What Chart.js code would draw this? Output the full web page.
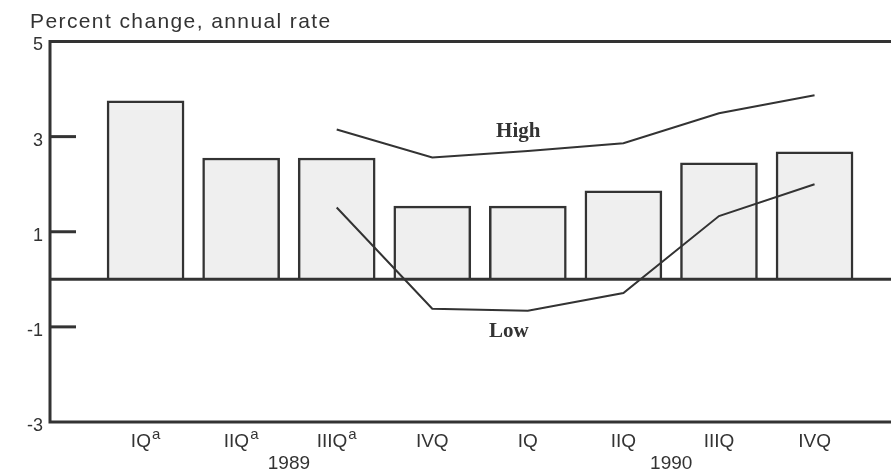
<!DOCTYPE html>
<html>
<head>
<meta charset="utf-8">
<script src="https://cdn.jsdelivr.net/npm/chart.js@4.4.1/dist/chart.umd.min.js"></script>
<style>
    html, body { margin: 0; padding: 0; background: #fff; }
    canvas { display: block; }
</style>
</head>
<body>
<canvas id="QuarterChart" width="891" height="474"></canvas>
<script>
// quarters, 1989 IQ .. 1990 IVQ
const quarters = ['IQ', 'IIQ', 'IIIQ', 'IVQ', 'IQ', 'IIQ', 'IIIQ', 'IVQ'];
const quarterNotes = ['a', 'a', 'a', '', '', '', '', ''];
const years = ['1989', '1990'];
const yearPos = [1.5, 5.5];
const actual = [3.75, 2.55, 2.55, 1.54, 1.54, 1.86, 2.45, 2.68];
// forecast range starts at IIIQ 1989
const rangeStart = 2;
const high = [3.15, 2.56, 2.7, 2.86, 3.49, 3.87];
const low = [1.51, -0.62, -0.66, -0.29, 1.33, 2.0];
const yTicks = [5, 3, 1, -1, -3];

const ink = '#333333';

function points(values, start) {
    return values.map((v, i) => ({ x: start + i, y: v }));
}

const decor = {
    id: 'decor',
    afterDraw(chart) {
        const ctx = chart.ctx;
        const xs = chart.scales.x;
        const ys = chart.scales.y;
        const area = chart.chartArea;
        const W = chart.width;
        ctx.save();
        ctx.strokeStyle = ink;
        ctx.fillStyle = ink;
        ctx.lineWidth = 3;
        ctx.lineCap = 'butt';

        // frame: left axis, top, bottom and zero line
        const yTop = ys.getPixelForValue(5);
        const yBot = ys.getPixelForValue(-3);
        const yZero = ys.getPixelForValue(0);
        ctx.beginPath();
        ctx.moveTo(area.left, yTop - 1.5);
        ctx.lineTo(area.left, yBot + 1.5);
        ctx.moveTo(area.left, yTop);
        ctx.lineTo(W, yTop);
        ctx.moveTo(area.left, yBot);
        ctx.lineTo(W, yBot);
        ctx.moveTo(area.left, yZero);
        ctx.lineTo(W, yZero);
        ctx.stroke();

        // inward tick marks and labels
        ctx.font = '18px "Liberation Sans", Arial, sans-serif';
        ctx.textAlign = 'right';
        ctx.textBaseline = 'middle';
        yTicks.forEach(t => {
            const y = ys.getPixelForValue(t);
            if (t !== 5 && t !== -3) {
                ctx.beginPath();
                ctx.moveTo(area.left, y);
                ctx.lineTo(area.left + 26, y);
                ctx.stroke();
            }
            ctx.fillText(String(t), area.left - 7, y + 4);
        });

        // quarter labels with superscript notes
        ctx.textBaseline = 'alphabetic';
        quarters.forEach((q, i) => {
            const x = xs.getPixelForValue(i);
            ctx.font = '19px "Liberation Sans", Arial, sans-serif';
            const qw = ctx.measureText(q).width;
            ctx.font = '15px "Liberation Sans", Arial, sans-serif';
            const nw = quarterNotes[i] ? ctx.measureText(quarterNotes[i]).width + 1 : 0;
            const x0 = x - (qw + nw) / 2;
            ctx.textAlign = 'left';
            ctx.font = '19px "Liberation Sans", Arial, sans-serif';
            ctx.fillText(q, x0, 447);
            if (quarterNotes[i]) {
                ctx.font = '15px "Liberation Sans", Arial, sans-serif';
                ctx.fillText(quarterNotes[i], x0 + qw + 1, 439);
            }
        });

        ctx.font = '19px "Liberation Sans", Arial, sans-serif';
        ctx.textAlign = 'center';
        years.forEach((y, i) => {
            ctx.fillText(y, xs.getPixelForValue(yearPos[i]), 469);
        });

        // unit title
        ctx.textAlign = 'left';
        ctx.font = '21px "Liberation Sans", Arial, sans-serif';
        ctx.letterSpacing = '1.4px';
        ctx.fillText('Percent change, annual rate', 30, 28);
        ctx.letterSpacing = '0px';

        // series names
        ctx.font = 'bold 21px "Liberation Serif", "Times New Roman", serif';
        ctx.textAlign = 'center';
        ctx.textBaseline = 'middle';
        ctx.fillText('High', xs.getPixelForValue(3.9), ys.getPixelForValue(3.1));
        ctx.fillText('Low', xs.getPixelForValue(3.8), ys.getPixelForValue(-1.1));
        ctx.restore();
    }
};

const chart = new Chart(document.getElementById('QuarterChart'), {
    type: 'bar',
    data: {
        datasets: [
            {
                type: 'line',
                label: 'High',
                data: points(high, rangeStart),
                borderColor: ink,
                borderWidth: 2,
                pointRadius: 0,
                tension: 0,
                fill: false
            },
            {
                type: 'line',
                label: 'Low',
                data: points(low, rangeStart),
                borderColor: ink,
                borderWidth: 2,
                pointRadius: 0,
                tension: 0,
                fill: false
            },
            {
                label: 'Actual',
                data: points(actual, 0),
                backgroundColor: '#efefef',
                borderColor: ink,
                borderWidth: 2.5,
                barThickness: 77
            }
        ]
    },
    options: {
        responsive: false,
        animation: false,
        layout: {
            padding: { left: 50, top: 41.5, right: 0, bottom: 52 }
        },
        plugins: {
            legend: { display: false },
            tooltip: { enabled: false }
        },
        scales: {
            x: {
                type: 'linear',
                min: -1,
                max: 7.8,
                offset: false,
                display: false
            },
            y: {
                min: -3,
                max: 5,
                display: false
            }
        }
    },
    plugins: [decor]
});
</script>
</body>
</html>
